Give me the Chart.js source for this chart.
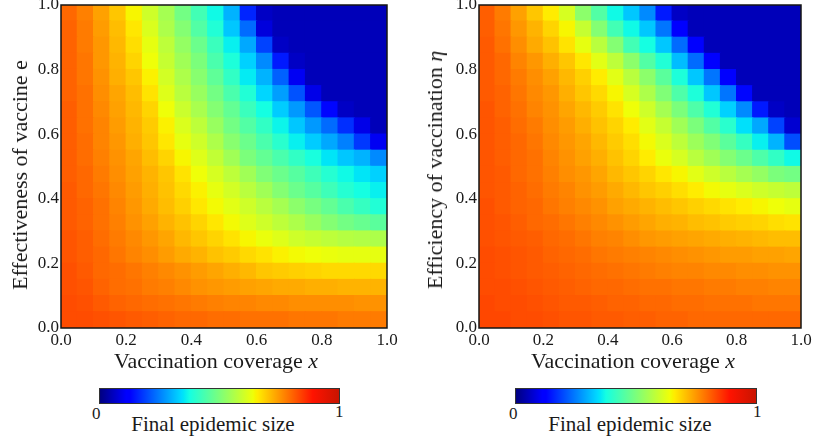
<!DOCTYPE html>
<html><head><meta charset="utf-8">
<script src="https://cdn.jsdelivr.net/npm/chart.js@4.4.1/dist/chart.umd.min.js"></script>
<style>
html,body{margin:0;padding:0;background:#fff;}
body{width:813px;height:439px;position:relative;overflow:hidden;font-family:"Liberation Serif","LiberationSerif","Tinos","Times New Roman","DejaVu Serif","Noto Serif",serif;color:#1a1a1a;}
.panel{position:absolute;top:0;height:350px;}
.t{position:absolute;white-space:nowrap;line-height:1;}
.c{text-align:center;width:400px;}
.rot{transform:translate(-50%,-50%) rotate(-90deg);}
.cbar{position:absolute;top:388px;height:14px;border:1px solid #333;
 background:linear-gradient(to right,rgb(0,0,128) 0%,rgb(0,0,255) 11%,rgb(0,0,255) 12.5%,rgb(0,219,255) 34%,rgb(0,230,247) 35%,rgb(21,255,226) 37.5%,rgb(239,255,8) 64%,rgb(247,245,0) 65%,rgb(255,236,0) 66%,rgb(255,19,0) 89%,rgb(200,20,0) 100%);}
</style></head>
<body>
<div class="panel" style="left:0;width:400px;"><canvas id="cL"></canvas></div>
<div class="panel" style="left:400px;width:413px;"><canvas id="cR"></canvas></div>

<div class="t c" style="left:16px;top:350px;font-size:22px;">Vaccination coverage <i>x</i></div>
<div class="t c" style="left:433px;top:350px;font-size:22px;">Vaccination coverage <i>x</i></div>
<div class="t rot" style="left:20px;top:175px;font-size:22px;">Effectiveness of vaccine e</div>
<div class="t rot" style="left:435px;top:170px;font-size:22px;">Efficiency of vaccination <i>η</i></div>

<div class="cbar" style="left:99px;width:239px;"></div>
<div class="cbar" style="left:515px;width:240px;"></div>
<div class="t" style="left:92px;top:405px;font-size:17px;">0</div>
<div class="t" style="left:335px;top:403px;font-size:17px;">1</div>
<div class="t" style="left:509px;top:405px;font-size:17px;">0</div>
<div class="t" style="left:753px;top:403px;font-size:17px;">1</div>
<div class="t c" style="left:13px;top:414px;font-size:21px;">Final epidemic size</div>
<div class="t c" style="left:430px;top:414px;font-size:21px;">Final epidemic size</div>

<script>
// ---- data ----
const xCenters = [0.025,0.075,0.125,0.175,0.225,0.275,0.325,0.375,0.425,0.475,0.525,0.575,0.625,0.675,0.725,0.775,0.825,0.875,0.925,0.975];
// rows listed from top (y = 0.975) to bottom (y = 0.025)
const yCenters = [0.975,0.925,0.875,0.825,0.775,0.725,0.675,0.625,0.575,0.525,0.475,0.425,0.375,0.325,0.275,0.225,0.175,0.125,0.075,0.025];
const tickValues = [0,0.2,0.4,0.6,0.8,1.0];
const tickLabels = ['0.0','0.2','0.4','0.6','0.8','1.0'];

// Final epidemic size, left panel (coverage x vs effectiveness e)
const sizeEffectiveness = [
 [0.80,0.775,0.74,0.70,0.65,0.60,0.55,0.49,0.43,0.37,0.30,0.16,0.06,0.05,0.05,0.05,0.05,0.05,0.05,0.05],
 [0.805,0.78,0.745,0.71,0.665,0.615,0.56,0.51,0.45,0.39,0.32,0.23,0.08,0.05,0.05,0.05,0.05,0.05,0.05,0.05],
 [0.805,0.78,0.75,0.715,0.675,0.63,0.58,0.53,0.48,0.42,0.36,0.29,0.19,0.06,0.05,0.05,0.05,0.05,0.05,0.05],
 [0.805,0.785,0.75,0.72,0.685,0.64,0.59,0.545,0.50,0.44,0.385,0.33,0.26,0.15,0.06,0.05,0.05,0.05,0.05,0.05],
 [0.805,0.785,0.755,0.725,0.70,0.655,0.605,0.56,0.515,0.465,0.41,0.355,0.30,0.22,0.10,0.05,0.05,0.05,0.05,0.05],
 [0.805,0.79,0.76,0.735,0.71,0.67,0.62,0.575,0.535,0.49,0.44,0.39,0.335,0.28,0.205,0.09,0.05,0.05,0.05,0.05],
 [0.81,0.79,0.765,0.74,0.715,0.685,0.64,0.595,0.555,0.51,0.47,0.42,0.375,0.325,0.275,0.21,0.13,0.06,0.05,0.05],
 [0.81,0.79,0.77,0.745,0.72,0.695,0.655,0.615,0.58,0.535,0.49,0.45,0.41,0.365,0.32,0.275,0.23,0.17,0.09,0.05],
 [0.81,0.795,0.77,0.75,0.725,0.70,0.665,0.63,0.60,0.56,0.515,0.48,0.44,0.40,0.36,0.325,0.29,0.25,0.18,0.10],
 [0.81,0.795,0.775,0.755,0.735,0.71,0.685,0.65,0.62,0.585,0.545,0.50,0.47,0.44,0.41,0.38,0.35,0.32,0.30,0.26],
 [0.81,0.80,0.78,0.76,0.74,0.72,0.70,0.67,0.64,0.61,0.58,0.545,0.505,0.48,0.455,0.425,0.395,0.37,0.35,0.33],
 [0.815,0.80,0.785,0.765,0.745,0.725,0.705,0.68,0.655,0.63,0.605,0.575,0.545,0.51,0.48,0.455,0.425,0.395,0.375,0.36],
 [0.815,0.805,0.79,0.77,0.75,0.73,0.71,0.69,0.665,0.645,0.625,0.60,0.575,0.55,0.52,0.495,0.47,0.44,0.415,0.39],
 [0.815,0.805,0.79,0.775,0.755,0.74,0.72,0.705,0.685,0.665,0.645,0.62,0.60,0.58,0.56,0.535,0.51,0.49,0.475,0.46],
 [0.82,0.81,0.795,0.78,0.765,0.75,0.735,0.715,0.70,0.685,0.67,0.65,0.635,0.62,0.60,0.59,0.58,0.57,0.565,0.56],
 [0.82,0.81,0.80,0.785,0.77,0.76,0.745,0.73,0.72,0.705,0.695,0.68,0.67,0.655,0.645,0.64,0.635,0.63,0.63,0.63],
 [0.825,0.815,0.80,0.795,0.785,0.775,0.765,0.755,0.745,0.735,0.725,0.715,0.70,0.695,0.69,0.685,0.68,0.68,0.68,0.68],
 [0.825,0.82,0.805,0.795,0.79,0.78,0.775,0.765,0.755,0.75,0.745,0.74,0.735,0.73,0.73,0.725,0.725,0.72,0.72,0.72],
 [0.83,0.825,0.815,0.805,0.80,0.795,0.79,0.785,0.78,0.775,0.77,0.77,0.765,0.765,0.76,0.76,0.76,0.76,0.755,0.755],
 [0.83,0.83,0.825,0.82,0.815,0.81,0.805,0.80,0.80,0.795,0.795,0.79,0.79,0.79,0.785,0.785,0.785,0.78,0.78,0.78]
];

// Final epidemic size, right panel (coverage x vs efficiency eta)
const sizeEfficiency = [
 [0.81,0.78,0.74,0.70,0.66,0.61,0.52,0.45,0.37,0.32,0.26,0.15,0.06,0.05,0.05,0.05,0.05,0.05,0.05,0.05],
 [0.81,0.785,0.75,0.72,0.685,0.65,0.59,0.51,0.43,0.37,0.32,0.24,0.11,0.05,0.05,0.05,0.05,0.05,0.05,0.05],
 [0.815,0.79,0.76,0.73,0.705,0.67,0.63,0.575,0.51,0.43,0.375,0.32,0.23,0.12,0.05,0.05,0.05,0.05,0.05,0.05],
 [0.815,0.80,0.77,0.75,0.725,0.70,0.665,0.625,0.58,0.52,0.45,0.39,0.31,0.23,0.12,0.05,0.05,0.05,0.05,0.05],
 [0.815,0.80,0.78,0.76,0.74,0.715,0.69,0.66,0.625,0.575,0.52,0.46,0.385,0.32,0.24,0.12,0.05,0.05,0.05,0.05],
 [0.815,0.805,0.785,0.765,0.75,0.725,0.70,0.68,0.65,0.61,0.56,0.505,0.445,0.385,0.32,0.24,0.13,0.05,0.05,0.05],
 [0.82,0.805,0.79,0.77,0.755,0.735,0.715,0.695,0.67,0.64,0.60,0.55,0.50,0.445,0.39,0.33,0.26,0.15,0.06,0.05],
 [0.82,0.81,0.795,0.78,0.76,0.745,0.725,0.705,0.685,0.66,0.625,0.59,0.545,0.50,0.45,0.40,0.345,0.29,0.19,0.07],
 [0.82,0.81,0.80,0.785,0.765,0.75,0.735,0.715,0.695,0.675,0.645,0.615,0.58,0.54,0.505,0.46,0.415,0.36,0.30,0.20],
 [0.82,0.81,0.80,0.79,0.77,0.755,0.74,0.725,0.705,0.685,0.66,0.635,0.61,0.575,0.545,0.51,0.48,0.445,0.41,0.37],
 [0.82,0.815,0.80,0.79,0.775,0.76,0.75,0.735,0.715,0.70,0.685,0.665,0.65,0.625,0.60,0.575,0.55,0.53,0.50,0.49],
 [0.82,0.815,0.805,0.795,0.78,0.77,0.755,0.745,0.73,0.715,0.70,0.69,0.675,0.66,0.645,0.63,0.615,0.60,0.59,0.58],
 [0.825,0.815,0.805,0.80,0.785,0.775,0.765,0.755,0.74,0.73,0.72,0.71,0.70,0.69,0.68,0.67,0.66,0.65,0.64,0.63],
 [0.825,0.82,0.81,0.80,0.795,0.785,0.775,0.765,0.755,0.745,0.735,0.725,0.72,0.71,0.705,0.695,0.69,0.685,0.675,0.67],
 [0.825,0.82,0.815,0.81,0.80,0.795,0.785,0.775,0.77,0.76,0.75,0.745,0.74,0.735,0.73,0.725,0.72,0.715,0.71,0.71],
 [0.83,0.825,0.82,0.815,0.805,0.80,0.795,0.785,0.78,0.775,0.77,0.765,0.76,0.755,0.75,0.745,0.745,0.74,0.74,0.735],
 [0.83,0.825,0.82,0.815,0.81,0.805,0.80,0.795,0.79,0.785,0.78,0.775,0.77,0.77,0.765,0.765,0.76,0.76,0.755,0.755],
 [0.83,0.83,0.825,0.82,0.815,0.81,0.805,0.80,0.80,0.795,0.79,0.79,0.785,0.785,0.78,0.78,0.775,0.775,0.77,0.77],
 [0.835,0.83,0.83,0.825,0.82,0.815,0.815,0.81,0.805,0.805,0.80,0.80,0.795,0.795,0.79,0.79,0.79,0.785,0.785,0.785],
 [0.835,0.835,0.83,0.83,0.825,0.82,0.82,0.815,0.815,0.81,0.81,0.805,0.805,0.80,0.80,0.80,0.80,0.80,0.80,0.80]
];

// ---- colour map (jet) ----
function lerpStops(v, stops){
  if (v <= stops[0][0]) return stops[0][1];
  for (let i = 1; i < stops.length; i++){
    if (v <= stops[i][0]){
      const [a, ya] = stops[i-1], [b, yb] = stops[i];
      return ya + (yb - ya) * (v - a) / (b - a);
    }
  }
  return stops[stops.length-1][1];
}
function jet(v){
  const r = lerpStops(v, [[0,0],[0.35,0],[0.66,1],[0.89,1],[1,0.5]]);
  const g = lerpStops(v, [[0,0],[0.125,0],[0.375,1],[0.64,1],[0.91,0],[1,0]]);
  const b = lerpStops(v, [[0,0.5],[0.11,1],[0.34,1],[0.65,0],[1,0]]);
  return `rgb(${Math.round(r*255)},${Math.round(g*255)},${Math.round(b*255)})`;
}

function buildPoints(rows){
  const pts = [];
  rows.forEach((row, ri) => row.forEach((v, ci) => pts.push({x: xCenters[ci], y: yCenters[ri], v})));
  return pts;
}

const frame = {
  id: 'frame',
  afterDatasetsDraw(c){
    const a = c.chartArea, ctx = c.ctx;
    ctx.save();
    ctx.strokeStyle = '#151515';
    ctx.lineWidth = 1.5;
    ctx.strokeRect(a.left, a.top, a.right - a.left, a.bottom - a.top);
    ctx.restore();
  }
};

function cellRadius(ctx){
  const c = ctx.chart, xs = c.scales.x, ys = c.scales.y;
  const step = xCenters[1] - xCenters[0];
  if (!xs || !ys) return 8;
  const w = Math.abs(xs.getPixelForValue(step) - xs.getPixelForValue(0));
  const h = Math.abs(ys.getPixelForValue(0) - ys.getPixelForValue(step));
  return (Math.max(w, h) + 1.2) / Math.SQRT2;
}

const FONT = '"Liberation Serif", "LiberationSerif", Tinos, "Times New Roman", "DejaVu Serif", "Noto Serif", serif';

function axis(extra){
  return Object.assign({
    type: 'linear', min: 0, max: 1,
    afterBuildTicks: s => { s.ticks = tickValues.map(v => ({value: v})); },
    ticks: {
      callback: (v, i) => tickLabels[i],
      font: {family: FONT, size: 17},
      color: '#1a1a1a', maxRotation: 0, autoSkip: false, padding: 2
    },
    grid: {display: false, drawTicks: false},
    border: {display: false}
  }, extra);
}

function makeChart(id, rows, yWidth, padRight){
  return new Chart(document.getElementById(id), {
    type: 'scatter',
    data: {datasets: [{
      data: buildPoints(rows),
      pointStyle: 'rect',
      radius: cellRadius,
      hoverRadius: cellRadius,
      borderWidth: 0,
      backgroundColor: ctx => jet(ctx.raw ? ctx.raw.v : 0)
    }]},
    options: {
      responsive: true, maintainAspectRatio: false, animation: false,
      events: [],
      layout: {padding: {left: 0, right: padRight, top: 5, bottom: 0}},
      plugins: {legend: {display: false}, tooltip: {enabled: false}},
      scales: {
        x: axis({position: 'bottom', afterFit: s => { s.height = 22; s.paddingLeft = 0; s.paddingRight = 0; }}),
        y: axis({position: 'left', afterFit: s => { s.width = yWidth; s.paddingTop = 0; s.paddingBottom = 0; }})
      }
    },
    plugins: [frame]
  });
}
makeChart('cL', sizeEffectiveness, 61, 13);
makeChart('cR', sizeEfficiency, 79, 12);
</script>
</body></html>
